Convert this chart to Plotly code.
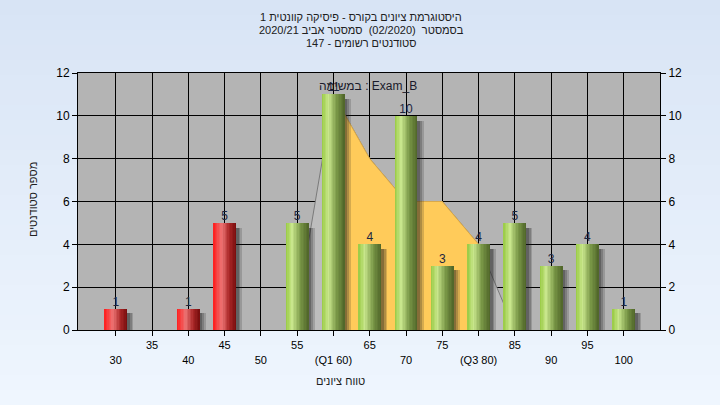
import plotly.graph_objects as go

# ---------------- data ----------------
categories = [30, 35, 40, 45, 50, 55, 60, 65, 70, 75, 80, 85, 90, 95, 100]
counts = [1, 0, 1, 5, 0, 5, 11, 4, 10, 3, 4, 5, 3, 4, 1]
tick_labels = ["30", "35", "40", "45", "50", "55", "(Q1 60)", "65", "70", "75",
               "(Q3 80)", "85", "90", "95", "100"]
pass_mark = 55
iqr_x = [60, 65, 70, 75, 80]
iqr_y = [11, 8, 6, 6, 4]
dist_x = [55, 60, 65, 70, 75, 80, 85]
dist_y = [1, 11, 8, 6, 6, 4, 0]
y_ticks = [0, 2, 4, 6, 8, 10, 12]
title_lines = ["היסטוגרמת ציונים בקורס - פיסיקה קוונטית 1",
               "בסמסטר  (02/2020)  סמסטר אביב 2020/21",
               "סטודנטים רשומים - 147"]
x_title = "טווח ציונים"
y_title = "מספר סטודנטים"
series_label = "במשימה : Exam_B"

# ---------------- helpers ----------------
FONT = "Liberation Sans, Arial, DejaVu Sans, sans-serif"
W, H = 720, 405
ML, MR, MT, MB = 78, 60, 73, 75
PW, PH = W - ML - MR, H - MT - MB


def px_x(p):
    return (p - ML) / PW


def px_y(p):
    return (H - MB - p) / PH


def lerp(stops, t):
    for (t0, c0), (t1, c1) in zip(stops[:-1], stops[1:]):
        if t0 <= t <= t1:
            f = (t - t0) / (t1 - t0) if t1 > t0 else 0
            c = [round(a + (b - a) * f) for a, b in zip(c0, c1)]
            return "rgb(%d,%d,%d)" % tuple(c)
    c = stops[-1][1]
    return "rgb(%d,%d,%d)" % tuple(c)


green_stops = [(0.0, (152, 202, 66)), (0.28, (200, 230, 140)), (0.65, (120, 150, 70)), (1.0, (78, 100, 40))]
red_stops = [(0.0, (255, 28, 28)), (0.38, (236, 116, 116)), (0.7, (170, 40, 40)), (1.0, (118, 12, 12))]

fig = go.Figure()

# distribution area (light gray) and IQR area (yellow) on the base subplot
fig.add_trace(go.Scatter(x=dist_x, y=dist_y, mode="lines", fill="tozeroy",
                         fillcolor="#bdbdbd", line=dict(color="#7a7a7a", width=1),
                         hoverinfo="skip", showlegend=False))
fig.add_trace(go.Scatter(x=iqr_x, y=iqr_y, mode="lines", fill="tozeroy",
                         fillcolor="#ffcb5a", line=dict(color="#d9a94a", width=1),
                         hoverinfo="skip", showlegend=False))

BW = 3.15
# shadows (overlay subplot, above the areas)
for e, a in [(0.85, 0.18), (0.6, 0.22), (0.35, 0.28)]:
    fig.add_trace(go.Bar(x=categories, y=[max(v - 0.22, 0) for v in counts], yaxis="y3",
                         width=BW - 0.6 + e, offset=-BW / 2 + 0.6,
                         marker=dict(color="rgba(30,30,30,%.2f)" % a, line=dict(width=0)),
                         hoverinfo="skip", showlegend=False))

# cylinder-like bars built from strips
N = 16
for i in range(N):
    t = (i + 0.5) / N
    cols = [lerp(red_stops if c < pass_mark else green_stops, t) for c in categories]
    fig.add_trace(go.Bar(x=categories, y=counts, yaxis="y3", width=BW - i * BW / N,
                         offset=-BW / 2 + i * BW / N,
                         marker=dict(color=cols, line=dict(width=0)),
                         hoverinfo="skip", showlegend=False))

# value labels
lab_x = [c for c, v in zip(categories, counts) if v > 0]
lab_y = [v for v in counts if v > 0]
fig.add_trace(go.Scatter(x=lab_x, y=lab_y, yaxis="y3", mode="text", text=[str(v) for v in lab_y],
                         textposition="top center",
                         textfont=dict(family=FONT, size=12, color="#1c2640"),
                         hoverinfo="skip", showlegend=False))

# invisible trace for right axis
fig.add_trace(go.Scatter(x=[categories[0]], y=[0], yaxis="y2", mode="markers",
                         marker=dict(opacity=0), hoverinfo="skip", showlegend=False))

# staggered tick labels
ticktext = [("\u00a0<br>" + lab) if i % 2 == 0 else lab for i, lab in enumerate(tick_labels)]

# background gradient bands
shapes = []
nb = 27
x0p, x1p = -ML / PW, 1 + MR / PW
top_c, bot_c = (216, 228, 245), (239, 246, 254)
for k in range(nb):
    ya = 1 + MT / PH - k * (H / nb) / PH
    yb = ya - (H / nb) / PH - 0.002
    f = (k + 0.5) / nb
    c = tuple(round(a + (b - a) * f) for a, b in zip(top_c, bot_c))
    shapes.append(dict(type="rect", xref="paper", yref="paper", x0=x0p, x1=x1p,
                       y0=yb, y1=ya, fillcolor="rgb(%d,%d,%d)" % c,
                       line=dict(width=0), layer="below"))
shapes.append(dict(type="rect", xref="paper", yref="paper", x0=0, x1=1, y0=0, y1=1,
                   fillcolor="#b4b4b4", line=dict(width=0), layer="below"))

annotations = []
for ln, py in zip(title_lines, [17, 30, 43]):
    annotations.append(dict(text=ln, xref="paper", yref="paper",
                            x=px_x(361), y=px_y(py), xanchor="center", yanchor="middle",
                            showarrow=False, font=dict(family=FONT, size=11, color="#202020")))
annotations.append(dict(text=series_label, xref="paper", yref="paper",
                        x=px_x(368), y=px_y(86), xanchor="center", yanchor="middle",
                        showarrow=False, font=dict(family=FONT, size=12, color="#1a1a2a")))
annotations.append(dict(text=x_title, xref="paper", yref="paper",
                        x=px_x(340), y=px_y(381), xanchor="center", yanchor="middle",
                        showarrow=False, font=dict(family=FONT, size=11, color="#202020")))
annotations.append(dict(text=y_title, xref="paper", yref="paper", textangle=-90,
                        x=px_x(33), y=px_y(200), xanchor="center", yanchor="middle",
                        showarrow=False, font=dict(family=FONT, size=11, color="#202020")))

fig.update_layout(
    width=W, height=H, autosize=False,
    margin=dict(l=ML, r=MR, t=MT, b=MB, pad=0),
    paper_bgcolor="#e4edf9", plot_bgcolor="rgba(0,0,0,0)",
    barmode="overlay", bargap=0, hovermode=False, showlegend=False,
    font=dict(family=FONT, size=11, color="#000000"),
    shapes=shapes, annotations=annotations,
    xaxis=dict(range=[24.8, 105], tickmode="array", tickvals=categories, ticktext=ticktext,
               tickangle=0, ticks="outside", ticklen=5, tickcolor="#000000",
               showgrid=True, gridcolor="#000000", gridwidth=1, zeroline=False,
               showline=True, linecolor="#000000", linewidth=1, mirror=True,
               tickfont=dict(family=FONT, size=11, color="#000000")),
    yaxis=dict(range=[0, 12], tickmode="array", tickvals=y_ticks,
               ticks="outside", ticklen=5, tickcolor="#000000",
               showgrid=True, gridcolor="#000000", gridwidth=1, zeroline=False,
               showline=True, linecolor="#000000", linewidth=1, mirror=True,
               tickfont=dict(family=FONT, size=12, color="#000000")),
    yaxis2=dict(range=[0, 12], overlaying="y", side="right", tickmode="array", tickvals=y_ticks,
                ticks="outside", ticklen=5, tickcolor="#000000", showgrid=False,
                zeroline=False, showline=False,
                tickfont=dict(family=FONT, size=12, color="#000000")),
    yaxis3=dict(range=[0, 12], overlaying="y", visible=False, showgrid=False, zeroline=False),
)

fig.write_html("out.html", config={"displayModeBar": False, "staticPlot": True},
               post_script="document.body.style.margin='0';document.body.style.overflow='hidden';")
